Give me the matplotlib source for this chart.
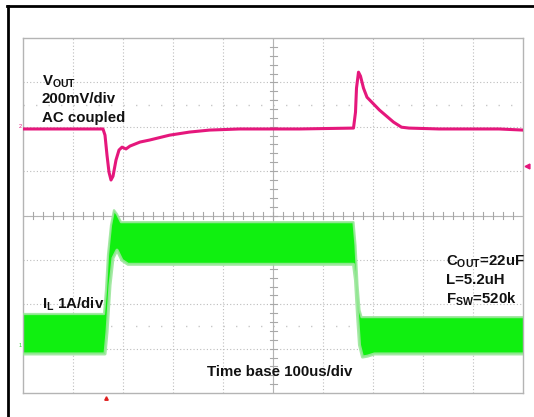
import matplotlib
matplotlib.use("Agg")
import matplotlib.pyplot as plt
from matplotlib.lines import Line2D
import numpy as np

plt.rcParams['font.family'] = ['Liberation Sans', 'DejaVu Sans']
plt.rcParams['mathtext.fontset'] = 'custom'
plt.rcParams['mathtext.bf'] = 'Liberation Sans:bold'
plt.rcParams['mathtext.rm'] = 'Liberation Sans:bold'

# Vout (AC coupled), time in us, deviation in mV, 200mV/div, trace zero at 6 div
t_vout = [0, 160, 164, 168, 172, 176, 180, 186, 192, 198, 206, 214, 234, 253, 293,
          333, 373, 433, 553, 661, 665, 667, 671, 675, 681, 688, 713, 741, 757, 772,
          832, 952, 1000]
vout_mv = [-10, -10, -38, -128, -205, -240, -223, -150, -105, -92, -100, -87, -69, -60, -38,
           -24, -15, -10, -10, -6, 66, 174, 246, 228, 174, 133, 75, 21, -2, -6,
           -10, -10, -15]

# inductor current envelope (A), 1A/div, ground at 1.08 div
t_il_hi = [0, 162, 166, 170, 176, 182, 188, 196, 661, 665, 669, 673, 677, 1000]
il_hi = [0.70, 0.70, 1.24, 2.03, 2.70, 3.04, 2.95, 2.77, 2.77, 2.25, 1.35, 0.79, 0.63, 0.63]
t_il_lo = [0, 164, 168, 174, 180, 188, 198, 210, 661, 665, 669, 673, 679, 689, 703, 1000]
il_lo = [-0.20, -0.20, 0.29, 1.35, 1.96, 2.14, 1.91, 1.82, 1.82, 1.46, 0.68, 0.0, -0.27, -0.25, -0.20, -0.20]

VOUT_ZERO = 6.0
IL_ZERO = 1.08
W, H = 534, 417

fig = plt.figure(figsize=(W / 100, H / 100), dpi=100)
fig.patch.set_facecolor('white')
ax = fig.add_axes([23 / W, 1 - 393 / H, 500 / W, 355 / H])
ax.set_xlim(0, 1000)
ax.set_ylim(0, 8)
ax.set_xticks([])
ax.set_yticks([])
for s in ax.spines.values():
    s.set_color('#b4b4b4')
    s.set_linewidth(1)

# graticule
for gx in range(100, 1000, 100):
    ax.axvline(gx, color='#bdbdbd', lw=0.8, ls=(0, (1, 2)), zorder=0)
for gy in range(1, 8):
    ax.axhline(gy, color='#bdbdbd', lw=0.8, ls=(0, (1, 2)), zorder=0)
for gy in (1.5, 6.5):
    ax.axhline(gy, color='#c8c8c8', lw=1.0, ls=(0, (1, 8)), zorder=0)
ax.axhline(4, color='#b4b4b4', lw=0.8, zorder=0)
ax.axvline(500, color='#b4b4b4', lw=0.8, zorder=0)
for mx in np.arange(20, 1000, 20):
    ax.plot([mx, mx], [3.93, 4.07], color='#a8a8a8', lw=0.8, zorder=0)
for my in np.arange(0.2, 8, 0.2):
    ax.plot([493, 507], [my, my], color='#a8a8a8', lw=0.8, zorder=0)

# inductor current band
px = np.concatenate([t_il_hi, t_il_lo[::-1]])
py = np.concatenate([np.array(il_hi) + IL_ZERO, np.array(il_lo[::-1]) + IL_ZERO])
ax.fill(px, py, color='#10f010', lw=0, zorder=2)
ax.plot(t_il_hi, np.array(il_hi) + IL_ZERO, color='#9be69b', lw=1.6, alpha=0.9, zorder=3)
ax.plot(t_il_lo, np.array(il_lo) + IL_ZERO, color='#9be69b', lw=2.2, alpha=0.9, zorder=3)

# Vout
ax.plot(t_vout, np.array(vout_mv) / 200 + VOUT_ZERO, color='#e5177c', lw=2.2, zorder=4,
        solid_joinstyle='round')

# channel markers
ax.text(-3, VOUT_ZERO, '2', color='#e5177c', fontsize=4, ha='right', va='center', clip_on=False)
ax.text(-3, IL_ZERO, '1', color='#22dd22', fontsize=4, ha='right', va='center', clip_on=False)
ax.plot([1007], [5.11], marker='<', color='#e5177c', ms=3.5, clip_on=False)
ax.plot([166], [-0.12], marker='^', color='#e02020', ms=2.5, clip_on=False)

# outer frame (left and top edges)
fig.add_artist(Line2D([8 / W, 8 / W], [0, 1 - 6 / H], color='black', lw=2,
                      transform=fig.transFigure))
fig.add_artist(Line2D([7 / W, 1], [1 - 6 / H, 1 - 6 / H], color='black', lw=2,
                      transform=fig.transFigure))

# labels
def label(x, y, s):
    fig.text(x / W, 1 - y / H, s, fontsize=10.8, fontweight='bold', color='#111111',
             ha='left', va='baseline')

label(42, 85, r'$\mathbf{V}_{\mathbf{OUT}}$')
label(42, 103, '200mV/div')
label(42, 122, 'AC coupled')
label(42, 308, r'$\mathbf{I}_{\mathbf{L}}$ 1A/div')
label(207, 376, 'Time base 100us/div')
label(446, 265, r'$\mathbf{C}_{\mathbf{OUT}}$=22uF')
label(446, 284, 'L=5.2uH')
label(446, 303, r'$\mathbf{F}_{\mathbf{SW}}$=520k')

fig.savefig('out.png', dpi=100)
